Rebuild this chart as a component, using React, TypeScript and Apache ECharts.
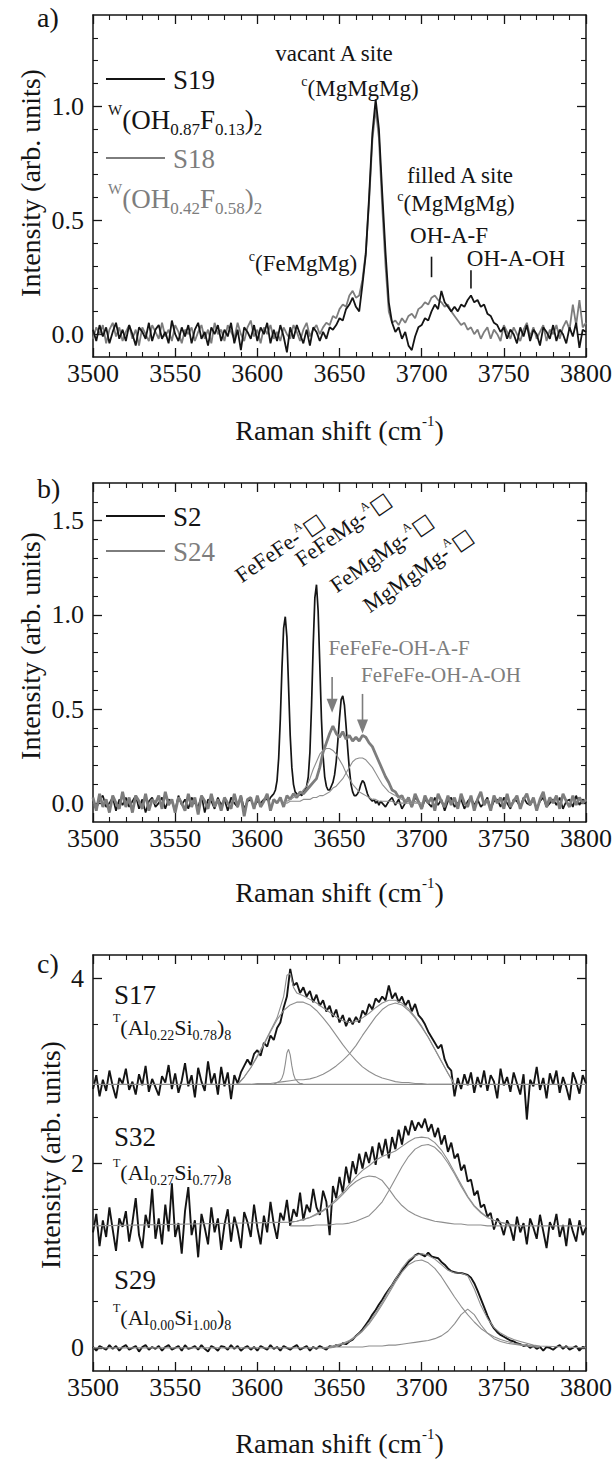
import React, { useEffect, useRef } from "react";
import * as echarts from "echarts";

const FONT = "Liberation Serif, Times New Roman, DejaVu Serif, serif";
const BLACK = "#141414";
const GRAY = "#7d7d7d";
const FIT = "#8e8e8e";

function range(a: number, b: number, s: number): number[] {
  const r: number[] = [];
  for (let v = a; v <= b + 1e-9; v += s) r.push(Math.round(v * 100) / 100);
  return r;
}

const xGrid = range(3500, 3800, 2);
const xTickValues = [3500, 3550, 3600, 3650, 3700, 3750, 3800];

const aS19 = [
  0.02,-0.03,0.04,-0.01,0.03,-0.04,0.01,0.05,-0.02,0.02,
  -0.03,0.04,0.00,-0.05,0.03,0.01,-0.02,0.05,-0.03,0.02,
  0.04,-0.02,0.01,-0.04,0.06,0.00,-0.03,0.03,-0.01,0.04,
  -0.04,0.02,0.05,-0.02,0.01,-0.05,0.03,0.00,0.04,-0.03,
  0.02,-0.01,0.05,-0.04,0.02,-0.07,0.03,0.01,-0.02,0.04,
  -0.03,0.03,0.00,0.05,-0.04,0.02,-0.03,0.04,-0.01,-0.08,
  0.03,-0.02,0.04,0.00,-0.04,0.02,-0.05,0.03,0.01,-0.03,
  0.01,-0.02,0.03,0.02,0.04,0.07,0.06,0.11,0.13,0.16,
  0.12,0.10,0.22,0.35,0.60,0.88,1.03,0.90,0.62,0.36,
  0.14,0.05,0.01,0.03,-0.02,0.01,-0.05,-0.07,-0.01,0.03,
  0.04,0.07,0.06,0.10,0.13,0.11,0.19,0.14,0.12,0.10,
  0.12,0.10,0.13,0.12,0.15,0.17,0.14,0.15,0.12,0.13,
  0.09,0.08,0.05,0.04,0.01,0.03,-0.02,0.02,0.00,-0.04,
  0.03,-0.01,0.04,-0.03,0.02,0.00,-0.05,0.03,0.01,-0.02,
  0.04,-0.03,0.02,0.00,-0.04,0.03,-0.01,0.05,-0.06,0.02,
  0.01,
];
const aS18 = [
  -0.02,0.03,0.00,0.04,-0.04,0.02,0.05,-0.01,0.03,-0.03,
  0.01,0.04,-0.02,0.02,-0.05,0.03,0.00,-0.03,0.04,0.01,
  -0.02,0.05,-0.01,0.02,-0.03,0.04,0.01,-0.04,0.02,0.00,
  0.03,-0.03,0.01,0.04,-0.02,0.02,-0.04,0.05,0.00,0.02,
  -0.03,0.04,0.01,-0.02,0.05,0.00,-0.03,0.03,0.06,-0.01,
  0.02,-0.04,0.03,0.00,0.04,-0.02,0.01,-0.03,0.03,0.00,
  -0.02,0.04,0.01,-0.03,0.02,0.05,-0.01,0.02,0.04,0.00,
  0.03,0.05,0.04,0.08,0.07,0.11,0.13,0.12,0.17,0.19,
  0.16,0.17,0.24,0.36,0.58,0.85,0.99,0.86,0.56,0.30,
  0.10,0.05,0.06,0.04,0.07,0.05,0.08,0.09,0.07,0.11,
  0.12,0.14,0.13,0.16,0.17,0.15,0.14,0.12,0.13,0.10,
  0.08,0.06,0.04,0.05,0.02,0.03,0.00,0.02,-0.02,0.01,
  0.03,-0.02,0.02,0.00,-0.03,0.04,0.01,-0.02,0.03,0.00,
  -0.03,0.02,0.05,-0.01,0.03,-0.02,0.01,0.04,-0.03,0.02,
  0.00,0.04,-0.02,0.03,0.06,0.02,0.13,0.04,0.15,0.03,
  0.05,
];
const aMarkers = [
  { x: 3706, y0: 0.34, y1: 0.25 },
  { x: 3730, y0: 0.28, y1: 0.20 },
];

const bS2X = [...range(3500, 3604, 2), ...range(3606, 3676, 1), ...range(3678, 3800, 2)];
const bS2 = [
  0.01,-0.03,0.02,0.04,-0.02,0.00,0.03,-0.04,0.02,-0.01,
  0.03,-0.02,0.01,0.04,-0.03,0.02,-0.05,0.01,0.03,-0.02,
  0.00,0.03,-0.03,0.02,0.01,-0.04,0.04,-0.01,0.02,-0.03,
  0.03,0.00,-0.02,0.04,-0.05,0.02,0.01,-0.03,0.03,-0.01,
  0.02,-0.04,0.03,0.00,-0.02,0.04,-0.03,0.01,0.02,-0.02,
  0.01,0.00,0.02,
  0.02,0.01,0.03,0.04,0.05,0.07,0.12,0.24,0.45,0.72,
  0.93,0.99,0.88,0.62,0.36,0.19,0.10,0.06,0.05,0.04,
  0.05,0.04,0.06,0.07,0.09,0.14,0.27,0.52,0.84,1.09,
  1.16,1.02,0.74,0.45,0.25,0.14,0.09,0.07,0.07,0.09,
  0.11,0.15,0.22,0.33,0.45,0.55,0.57,0.52,0.41,0.29,
  0.18,0.10,0.06,0.04,0.04,0.05,0.07,0.10,0.12,0.11,
  0.08,0.05,0.03,0.02,0.01,0.02,0.00,0.01,-0.01,0.01,
  0.00,
  -0.02,0.01,0.03,-0.01,0.02,-0.03,0.00,0.02,-0.02,0.03,
  0.01,-0.03,0.02,0.00,-0.02,0.03,-0.01,0.02,-0.04,0.01,
  0.03,-0.02,0.00,0.02,-0.03,0.01,0.03,-0.01,0.02,-0.02,
  0.00,0.03,-0.03,0.01,0.02,-0.02,0.03,0.00,-0.03,0.02,
  0.01,-0.02,0.03,0.00,-0.01,0.02,-0.03,0.01,0.03,-0.02,
  0.00,0.02,-0.01,0.03,-0.03,0.01,0.02,-0.02,0.04,-0.01,
  0.02,0.00,
];
const bS24 = [
  0.03,-0.04,0.05,-0.02,0.02,-0.05,0.04,0.00,-0.03,0.06,
  -0.02,0.03,-0.05,0.04,0.01,-0.03,0.05,-0.04,0.02,0.00,
  0.04,-0.03,0.06,-0.01,0.02,-0.05,0.03,0.00,-0.04,0.05,
  -0.02,0.03,-0.06,0.04,0.01,-0.03,0.05,-0.02,0.02,-0.04,
  0.03,0.00,-0.03,0.05,-0.02,0.04,-0.07,0.02,0.03,-0.03,
  0.04,-0.02,0.01,0.05,-0.04,0.02,0.00,0.03,-0.02,0.04,
  0.02,0.05,0.03,0.06,0.05,0.07,0.09,0.11,0.13,0.19,
  0.27,0.32,0.37,0.41,0.37,0.35,0.38,0.34,0.36,0.33,
  0.35,0.33,0.36,0.35,0.32,0.30,0.26,0.22,0.18,0.14,
  0.11,0.07,0.06,0.03,0.04,0.00,0.03,-0.02,0.05,0.01,
  -0.03,0.04,0.00,0.03,-0.04,0.05,0.01,-0.02,0.04,-0.01,
  0.03,-0.03,0.05,0.00,-0.02,0.04,-0.04,0.02,0.06,-0.01,
  0.02,-0.04,0.04,0.00,0.03,-0.03,0.05,-0.02,0.01,0.04,
  -0.03,0.02,0.05,-0.01,0.03,-0.04,0.02,0.06,-0.02,0.03,
  0.00,0.04,-0.03,0.05,0.01,-0.02,0.04,-0.01,0.03,0.00,
  0.02,
];
const bFitX = range(3616, 3700, 2);
const bComp1 = [
  0.01,0.01,0.02,0.03,0.04,0.05,0.07,0.09,0.13,0.18,
  0.22,0.26,0.28,0.29,0.29,0.28,0.26,0.23,0.20,0.16,
  0.13,0.10,0.08,0.06,0.05,0.04,0.03,0.02,0.02,0.01,
  0.01,0.01,0.01,0.01,0.00,0.00,0.00,0.00,0.00,0.00,
  0.00,0.00,0.00,
];
const bComp2 = [
  0.00,0.00,0.01,0.01,0.01,0.01,0.02,0.02,0.02,0.03,
  0.03,0.04,0.04,0.05,0.06,0.08,0.09,0.11,0.13,0.16,
  0.19,0.22,0.235,0.24,0.24,0.23,0.21,0.19,0.16,0.13,
  0.10,0.08,0.06,0.05,0.04,0.03,0.02,0.02,0.01,0.01,
  0.01,0.00,0.00,
];
const bArrows = [
  { x: 3645.5, y0: 0.67, y1: 0.48 },
  { x: 3664, y0: 0.58, y1: 0.37 },
];

const cS17 = [
  2.80,2.95,2.72,2.90,2.78,3.00,2.83,2.70,2.92,2.86,
  3.02,2.79,2.88,2.74,2.96,2.84,3.05,2.77,2.91,2.82,
  2.73,2.94,2.87,3.06,2.80,2.97,2.76,2.89,3.08,2.83,
  2.95,2.71,3.03,2.88,2.78,3.10,2.86,2.97,2.74,3.04,
  2.83,2.98,2.69,2.95,2.86,2.98,3.05,3.12,3.06,3.18,
  3.22,3.16,3.30,3.26,3.38,3.33,3.46,3.52,3.68,3.80,
  4.10,3.92,3.95,3.84,3.90,3.80,3.86,3.74,3.82,3.70,
  3.76,3.64,3.70,3.58,3.66,3.52,3.60,3.48,3.57,3.50,
  3.58,3.52,3.65,3.60,3.72,3.66,3.78,3.74,3.80,3.76,
  3.92,3.78,3.84,3.74,3.80,3.70,3.76,3.64,3.72,3.60,
  3.56,3.50,3.42,3.36,3.30,3.24,3.28,3.12,3.04,3.00,
  2.72,2.92,2.80,2.96,2.84,2.98,2.76,2.93,2.82,3.00,
  2.78,2.95,2.88,2.70,3.02,2.84,2.93,2.77,2.98,2.86,
  2.74,2.96,2.47,2.90,2.83,3.04,2.79,2.92,2.70,2.97,
  2.85,3.00,2.76,2.93,2.82,2.68,2.98,2.88,2.75,2.95,
  2.86,
];
const c17Base = 2.85;
const c17FitX = range(3588, 3720, 4);
const c17Broad1 = [
  2.85,2.93,3.03,3.15,3.28,3.42,3.55,3.65,3.71,3.74,
  3.74,3.71,3.65,3.57,3.48,3.38,3.28,3.19,3.11,3.04,
  2.99,2.95,2.92,2.90,2.88,2.87,2.87,2.86,2.86,2.85,
  2.85,2.85,2.85,2.85,
];
const c17Broad2 = [
  2.85,2.85,2.85,2.86,2.86,2.86,2.87,2.88,2.89,2.90,
  2.90,2.91,2.93,2.96,3.00,3.05,3.11,3.18,3.27,3.38,
  3.48,3.58,3.66,3.71,3.73,3.71,3.65,3.57,3.47,3.36,
  3.23,3.10,2.97,2.85,
];
const c17NarrowX = range(3610, 3628, 1);
const c17Narrow = [
  2.86,2.86,2.87,2.88,2.89,2.92,2.97,3.07,3.19,3.23,
  3.17,3.05,2.96,2.91,2.89,2.87,2.86,2.86,2.85,
];
const c17EnvX = [3500,3588,3592,3596,3600,3604,3608,3612,3616,3618,3620,3622,3624,3628,3632,3636,3640,3644,3648,3652,3656,3660,3664,3668,3672,3676,3680,3684,3688,3692,3696,3700,3704,3708,3712,3716,3720,3800];
const c17Env = [2.85,2.85,2.93,3.03,3.16,3.29,3.43,3.57,3.80,4.03,4.05,3.90,3.84,3.81,3.77,3.73,3.68,3.63,3.58,3.54,3.52,3.53,3.57,3.62,3.68,3.73,3.76,3.76,3.73,3.67,3.58,3.48,3.36,3.23,3.10,2.97,2.85,2.85];

const cS32 = [
  1.25,1.45,1.10,1.38,1.20,1.52,1.28,1.05,1.40,1.31,
  1.48,1.15,1.36,1.62,1.22,1.08,1.44,1.30,1.72,1.18,
  1.40,1.12,1.55,1.26,1.78,1.20,1.35,1.02,1.48,1.74,
  1.22,1.38,0.98,1.45,1.30,1.12,1.52,1.25,1.40,1.06,
  1.33,1.50,1.15,1.42,1.28,1.08,1.47,1.36,1.20,1.55,
  1.30,1.12,1.43,1.25,1.58,1.34,1.18,1.46,1.38,1.60,
  1.32,1.50,1.42,1.68,1.38,1.55,1.47,1.72,1.52,1.44,
  1.70,1.58,1.22,1.75,1.62,1.85,1.68,1.96,1.78,2.02,
  1.88,2.10,1.94,2.12,2.00,2.18,1.98,2.22,2.08,2.26,
  2.05,2.28,2.15,2.36,2.20,2.40,2.30,2.46,2.35,2.44,
  2.38,2.48,2.34,2.42,2.28,2.38,2.20,2.30,2.12,2.22,
  2.05,2.10,1.92,1.98,1.80,1.82,1.65,1.70,1.52,1.55,
  1.42,1.46,1.28,1.40,1.34,1.22,1.38,1.30,1.16,1.42,
  1.25,1.35,1.12,1.40,1.30,1.18,1.44,1.26,1.08,1.36,
  1.28,1.45,1.20,1.33,1.10,1.40,1.26,1.15,1.38,1.22,
  1.30,
];
const c32FitX = range(3620, 3760, 4);
const c32Comp1 = [
  1.36,1.37,1.39,1.41,1.44,1.48,1.53,1.59,1.66,1.74,
  1.80,1.84,1.86,1.85,1.81,1.72,1.62,1.54,1.48,1.44,
  1.41,1.39,1.37,1.36,1.35,1.34,1.34,1.33,1.33,1.33,
  1.32,1.32,1.32,1.32,1.32,1.32,
];
const c32Comp2 = [
  1.32,1.32,1.32,1.32,1.33,1.33,1.33,1.34,1.34,1.35,
  1.37,1.40,1.43,1.50,1.58,1.70,1.83,1.96,2.07,2.15,
  2.19,2.20,2.17,2.10,2.00,1.88,1.75,1.63,1.53,1.46,
  1.41,1.38,1.36,1.34,1.33,1.32,
];
const c32EnvX = [3500, ...range(3620, 3760, 4), 3800];
const c32Env = [
  1.32,
  1.36,1.37,1.39,1.41,1.45,1.49,1.54,1.61,1.68,1.77,
  1.85,1.92,1.97,2.03,2.07,2.10,2.13,2.18,2.23,2.27,
  2.28,2.27,2.22,2.14,2.03,1.90,1.77,1.64,1.54,1.47,
  1.41,1.38,1.36,1.34,1.33,1.32,
  1.32,
];

const cS29 = [
  0.01,-0.03,0.02,0.00,-0.02,0.03,-0.01,0.02,-0.03,0.01,
  0.03,-0.02,0.00,0.02,-0.04,0.01,0.03,-0.02,0.01,-0.01,
  0.02,-0.03,0.01,0.03,-0.02,0.00,0.02,-0.03,0.03,-0.01,
  0.00,0.02,-0.02,0.03,-0.01,-0.04,0.02,0.00,-0.03,0.02,
  0.01,-0.02,0.03,-0.01,0.02,-0.03,0.00,0.02,-0.02,0.01,
  -0.03,0.02,0.00,-0.02,0.03,-0.01,0.01,-0.03,0.02,0.00,
  -0.02,0.01,0.03,-0.02,0.00,0.02,-0.03,0.01,-0.01,0.02,
  0.00,-0.02,0.02,0.01,0.03,0.02,0.05,0.04,0.07,0.09,
  0.13,0.16,0.20,0.25,0.30,0.36,0.41,0.47,0.52,0.58,
  0.63,0.68,0.74,0.79,0.84,0.88,0.93,0.96,1.00,1.02,
  1.01,0.99,1.03,0.99,0.98,0.97,0.93,0.90,0.86,0.83,
  0.82,0.81,0.81,0.80,0.79,0.76,0.70,0.62,0.53,0.44,
  0.35,0.27,0.21,0.17,0.14,0.12,0.10,0.08,0.07,0.05,
  0.04,0.02,0.03,0.00,0.02,-0.01,0.01,-0.03,0.01,0.00,
  -0.02,0.01,0.03,-0.01,0.02,-0.02,0.00,0.02,-0.03,0.01,
  0.00,
];
const c29FitX = range(3640, 3772, 4);
const c29Comp1 = [
  0.00,0.01,0.02,0.04,0.07,0.12,0.18,0.26,0.36,0.47,
  0.59,0.71,0.82,0.90,0.94,0.95,0.92,0.86,0.77,0.66,
  0.55,0.45,0.36,0.28,0.21,0.16,0.12,0.09,0.07,0.05,
  0.04,0.03,0.02,0.01,
];
const c29Comp2 = [
  0.00,0.00,0.01,0.01,0.01,0.01,0.01,0.02,0.02,0.02,
  0.03,0.03,0.04,0.05,0.06,0.07,0.08,0.10,0.13,0.18,
  0.26,0.36,0.42,0.36,0.25,0.16,0.10,0.07,0.05,0.04,
  0.03,0.02,0.01,0.01,
];
const c29EnvX = [3500, ...range(3640, 3772, 4), 3800];
const c29Env = [
  0.00,
  0.00,0.01,0.03,0.05,0.08,0.13,0.19,0.28,0.38,0.49,
  0.62,0.74,0.86,0.95,1.00,1.02,1.00,0.96,0.90,0.84,
  0.81,0.81,0.78,0.64,0.46,0.32,0.22,0.16,0.12,0.09,
  0.07,0.05,0.03,0.02,
  0.00,
];

const yPanels = [
  { min: -0.1, max: 1.4, major: [0, 0.5, 1.0], minor: [0.1,0.2,0.3,0.4,0.6,0.7,0.8,0.9,1.1,1.2,1.3], digits: 1 },
  { min: -0.1, max: 1.7, major: [0, 0.5, 1.0, 1.5], minor: [0.1,0.2,0.3,0.4,0.6,0.7,0.8,0.9,1.1,1.2,1.3,1.4,1.6], digits: 1 },
  { min: -0.25, max: 4.25, major: [0, 2, 4], minor: [0.5,1,1.5,2.5,3,3.5], digits: 0 },
];
const gridBoxes = [
  { top: 15, height: 342 },
  { top: 483, height: 339 },
  { top: 955, height: 416 },
];
const PLOT_LEFT = 93;
const PLOT_RIGHT = 29;

const zip = (xs: number[], ys: number[]) => ys.map((y, i) => [xs[i], y]);

function buildOption() {
  const grid = gridBoxes.map((g) => ({ left: PLOT_LEFT, right: PLOT_RIGHT, top: g.top, height: g.height, show: false }));
  const axisLine = { show: true, onZero: false, lineStyle: { color: BLACK, width: 1.5 } };
  const xAxis: any[] = [];
  const yAxis: any[] = [];
  gridBoxes.forEach((_, g) => {
    ["bottom", "top"].forEach((pos) => {
      xAxis.push({
        type: "value", gridIndex: g, position: pos, min: 3500, max: 3800, interval: 50,
        axisLine,
        axisTick: { show: true, inside: true, length: 9, lineStyle: { color: BLACK, width: 1.3 } },
        minorTick: { show: true, splitNumber: 5, length: 5, lineStyle: { color: BLACK, width: 1.1 } },
        axisLabel: { show: pos === "bottom", margin: 3, fontSize: 26, fontFamily: FONT, color: BLACK,
          customValues: xTickValues, formatter: (v: number) => String(Math.round(v)) },
        splitLine: { show: false }, minorSplitLine: { show: false },
      });
    });
    const yp = yPanels[g];
    ["left", "right"].forEach((pos) => {
      yAxis.push({
        type: "value", gridIndex: g, position: pos, min: yp.min, max: yp.max,
        axisLine,
        axisTick: { show: true, inside: true, length: 9, customValues: yp.major, lineStyle: { color: BLACK, width: 1.3 } },
        axisLabel: { show: pos === "left", customValues: yp.major, margin: 9, fontSize: 26, fontFamily: FONT, color: BLACK,
          formatter: (v: number) => v.toFixed(yp.digits) },
        splitLine: { show: false },
      });
      yAxis.push({
        type: "value", gridIndex: g, position: pos, min: yp.min, max: yp.max,
        axisLine: { show: false, onZero: false },
        axisTick: { show: true, inside: true, length: 5, customValues: yp.minor, lineStyle: { color: BLACK, width: 1.1 } },
        axisLabel: { show: false },
        splitLine: { show: false },
      });
    });
  });

  const line = (name: string, data: number[][], g: number, color: string, width: number, z: number) => ({
    type: "line", name, data, xAxisIndex: 2 * g, yAxisIndex: 4 * g, showSymbol: false, symbol: "none",
    lineStyle: { color, width }, itemStyle: { color }, z, silent: true, clip: true,
  });

  const series = [
    line("S18", zip(xGrid, aS18), 0, GRAY, 1.8, 2),
    line("S19", zip(xGrid, aS19), 0, BLACK, 1.8, 3),
    line("S2", zip(bS2X, bS2), 1, BLACK, 1.7, 2),
    line("S24", zip(xGrid, bS24), 1, GRAY, 2.8, 3),
    line("S24 fit 1", zip(bFitX, bComp1), 1, FIT, 1.1, 4),
    line("S24 fit 2", zip(bFitX, bComp2), 1, FIT, 1.1, 4),
    line("S17", zip(xGrid, cS17), 2, BLACK, 1.9, 2),
    line("S32", zip(xGrid, cS32), 2, BLACK, 1.9, 2),
    line("S29", zip(xGrid, cS29), 2, BLACK, 1.9, 2),
    line("S17 envelope", zip(c17EnvX, c17Env), 2, FIT, 1.1, 4),
    line("S17 base", [[c17FitX[0], c17Base], [c17FitX[c17FitX.length - 1], c17Base]], 2, FIT, 1.1, 4),
    line("S17 fit 1", zip(c17FitX, c17Broad1), 2, FIT, 1.1, 4),
    line("S17 fit 2", zip(c17FitX, c17Broad2), 2, FIT, 1.1, 4),
    line("S17 fit 3", zip(c17NarrowX, c17Narrow), 2, FIT, 1.1, 4),
    line("S32 envelope", zip(c32EnvX, c32Env), 2, FIT, 1.1, 4),
    line("S32 fit 1", zip(c32FitX, c32Comp1), 2, FIT, 1.1, 4),
    line("S32 fit 2", zip(c32FitX, c32Comp2), 2, FIT, 1.1, 4),
    line("S29 envelope", zip(c29EnvX, c29Env), 2, FIT, 1.1, 4),
    line("S29 fit 1", zip(c29FitX, c29Comp1), 2, FIT, 1.1, 4),
    line("S29 fit 2", zip(c29FitX, c29Comp2), 2, FIT, 1.1, 4),
  ];

  return { animation: false, backgroundColor: "#ffffff", textStyle: { fontFamily: FONT }, grid, xAxis, yAxis, series };
}

function richSet(main: number, sub: number, sup: number, color: string, lh?: number) {
  const L = lh ?? Math.round(main * 1.3);
  return {
    m: { fontSize: main, fontFamily: FONT, fill: color, lineHeight: L, verticalAlign: "middle" },
    sub: { fontSize: sub, fontFamily: FONT, fill: color, lineHeight: sub, verticalAlign: "bottom" },
    sup: { fontSize: sup, fontFamily: FONT, fill: color, lineHeight: sup, verticalAlign: "top" },
    box: { fontSize: main, fontFamily: "DejaVu Sans", fill: color, lineHeight: L, verticalAlign: "middle" },
  };
}

function txt(x: number, y: number, text: string, size: number, color: string, align = "left", opts: any = {}) {
  return {
    type: "text", x, y, rotation: opts.rotation ?? 0, z: 100, silent: true,
    style: {
      text, fill: color, fontSize: size, fontFamily: FONT,
      align, textAlign: align,
      verticalAlign: opts.vAlign ?? "middle", textVerticalAlign: opts.vAlign ?? "middle",
      rich: opts.rich,
    },
  };
}

function buildGraphics(chart: any) {
  const px = (g: number, x: number, y: number) =>
    chart.convertToPixel({ xAxisIndex: 2 * g, yAxisIndex: 4 * g }, [x, y]) as number[];
  const els: any[] = [];
  els.push(txt(37, 17, "a)", 28, BLACK));
  els.push(txt(37, 488, "b)", 28, BLACK));
  els.push(txt(37, 963, "c)", 28, BLACK));
  const yTitles = [[30, 183], [30, 646], [50, 1155]];
  yTitles.forEach(([x, y]) => els.push(txt(x, y, "Intensity (arb. units)", 28, BLACK, "center", { rotation: Math.PI / 2 })));
  const xTitleY = [430, 892, 1443];
  xTitleY.forEach((y) => els.push(txt(339.5, y, "{m|Raman shift (cm}{sup|-1}{m|)}", 28, BLACK, "center", { rich: richSet(28, 16, 15, BLACK, 34) })));

  els.push({ type: "line", z: 100, shape: { x1: 106, y1: 79, x2: 165, y2: 79 }, style: { stroke: BLACK, lineWidth: 2 } });
  els.push(txt(173, 80, "S19", 27, BLACK));
  els.push(txt(108, 120, "{sup|W}{m|(OH}{sub|0.87}{m|F}{sub|0.13}{m|)}{sub|2}", 27, BLACK, "left", { rich: richSet(27, 17, 15, BLACK, 36) }));
  els.push({ type: "line", z: 100, shape: { x1: 106, y1: 158, x2: 165, y2: 158 }, style: { stroke: GRAY, lineWidth: 2 } });
  els.push(txt(173, 159, "S18", 27, GRAY));
  els.push(txt(108, 199, "{sup|W}{m|(OH}{sub|0.42}{m|F}{sub|0.58}{m|)}{sub|2}", 27, GRAY, "left", { rich: richSet(27, 17, 15, GRAY, 36) }));
  els.push(txt(334, 53, "vacant A site", 23, BLACK, "center"));
  els.push(txt(360, 88, "{sup|c}{m|(MgMgMg)}", 23, BLACK, "center", { rich: richSet(23, 14, 14, BLACK, 28) }));
  els.push(txt(460, 175, "filled A site", 23, BLACK, "center"));
  els.push(txt(456, 203, "{sup|c}{m|(MgMgMg)}", 23, BLACK, "center", { rich: richSet(23, 14, 14, BLACK, 28) }));
  els.push(txt(449, 235, "OH-A-F", 23, BLACK, "center"));
  els.push(txt(516, 258, "OH-A-OH", 23, BLACK, "center"));
  els.push(txt(303, 263, "{sup|c}{m|(FeMgMg)}", 23, BLACK, "center", { rich: richSet(23, 14, 14, BLACK, 28) }));
  aMarkers.forEach((m) => {
    const p0 = px(0, m.x, m.y0), p1 = px(0, m.x, m.y1);
    els.push({ type: "line", z: 100, shape: { x1: p0[0], y1: p0[1], x2: p1[0], y2: p1[1] }, style: { stroke: BLACK, lineWidth: 1.6 } });
  });

  els.push({ type: "line", z: 100, shape: { x1: 106, y1: 516, x2: 165, y2: 516 }, style: { stroke: BLACK, lineWidth: 2 } });
  els.push(txt(173, 517, "S2", 27, BLACK));
  els.push({ type: "line", z: 100, shape: { x1: 106, y1: 551, x2: 165, y2: 551 }, style: { stroke: GRAY, lineWidth: 2 } });
  els.push(txt(173, 552, "S24", 27, GRAY));
  const rot = (35 * Math.PI) / 180;
  const siteLabels = [
    ["FeFeFe-", 245, 588],
    ["FeFeMg-", 305, 572],
    ["FeMgMg-", 340, 598],
    ["MgMgMg-", 373, 618],
  ] as [string, number, number][];
  siteLabels.forEach(([t, x, y]) =>
    els.push(txt(x, y, `{m|${t}}{sup|A}{box|\u25A1}`, 22, BLACK, "left", { rotation: rot, vAlign: "bottom", rich: richSet(22, 13, 12, BLACK, 26) }))
  );
  els.push(txt(399, 648, "FeFeFe-OH-A-F", 21, GRAY, "center"));
  els.push(txt(441, 675, "FeFeFe-OH-A-OH", 21, GRAY, "center"));
  bArrows.forEach((a) => {
    const p0 = px(1, a.x, a.y0), p1 = px(1, a.x, a.y1);
    els.push({ type: "line", z: 100, shape: { x1: p0[0], y1: p0[1], x2: p1[0], y2: p1[1] - 10 }, style: { stroke: GRAY, lineWidth: 1.6 } });
    els.push({ type: "polygon", z: 100, shape: { points: [[p1[0] - 5.5, p1[1] - 14], [p1[0] + 5.5, p1[1] - 14], [p1[0], p1[1]]] }, style: { fill: GRAY } });
  });

  const cLabels = [
    ["S17", 995, "0.22", "0.78", 1027],
    ["S32", 1137, "0.27", "0.77", 1172],
    ["S29", 1280, "0.00", "1.00", 1317],
  ] as [string, number, string, string, number][];
  cLabels.forEach(([s, y, al, si, fy]) => {
    els.push(txt(114, y, s, 27, BLACK));
    els.push(txt(113, fy, `{sup|T}{m|(Al}{sub|${al}}{m|Si}{sub|${si}}{m|)}{sub|8}`, 22, BLACK, "left", { rich: richSet(22, 14, 12, BLACK, 30) }));
  });
  return els;
}

export default function App() {
  const ref = useRef<HTMLDivElement>(null);
  useEffect(() => {
    if (!ref.current) return;
    const chart = echarts.init(ref.current, undefined, { renderer: "svg" });
    chart.setOption(buildOption() as any);
    chart.setOption({ graphic: { elements: buildGraphics(chart) } } as any);
    return () => chart.dispose();
  }, []);
  return (
    <div
      ref={ref}
      style={{ position: "absolute", left: 0, top: 0, width: 615, height: 1463, background: "#fff" }}
    />
  );
}
